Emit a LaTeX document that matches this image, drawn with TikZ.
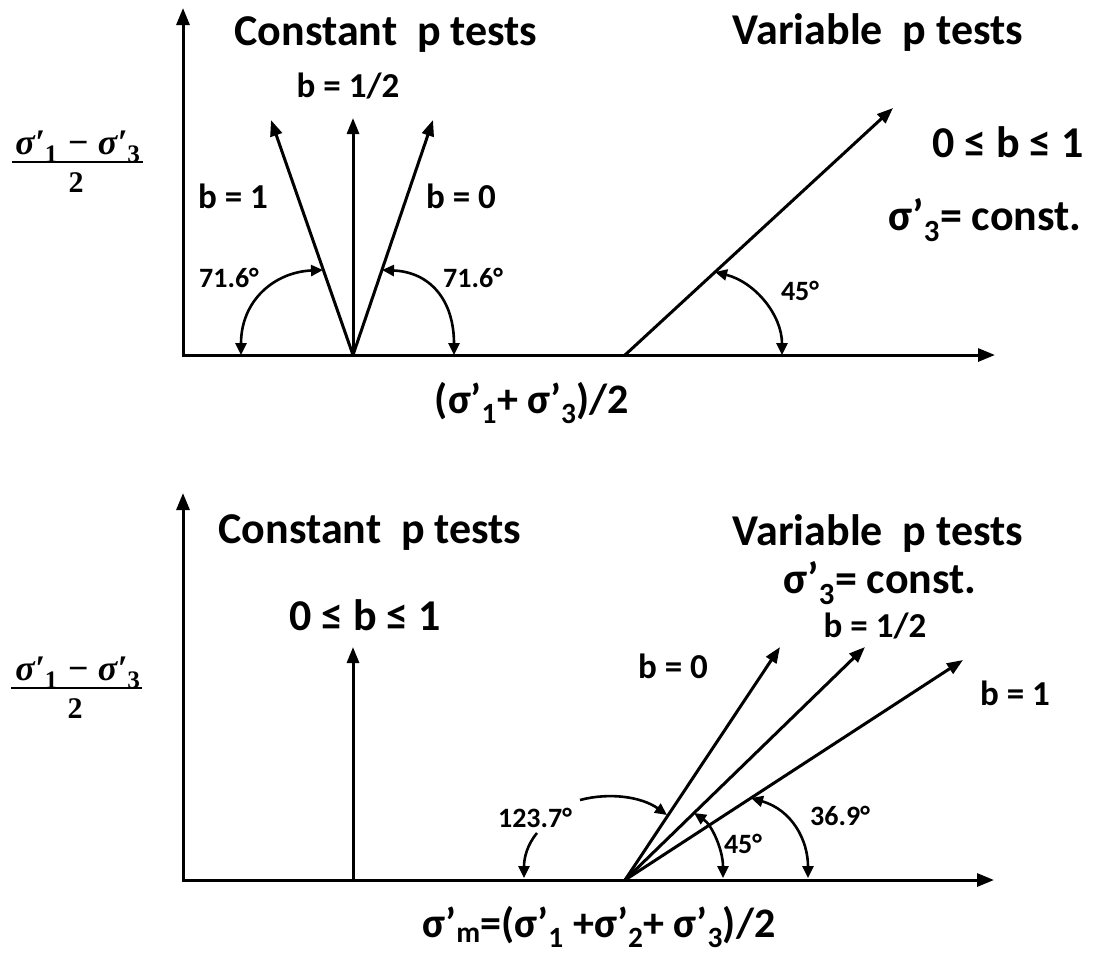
\documentclass[tikz,border=0pt]{standalone}
\usepackage{fontspec}
\setmainfont{Carlito}
\newfontfamily\fracfont{Liberation Serif}
\usetikzlibrary{arrows.meta}
\newcommand{\sg}{σ’}
\newcommand{\fsub}[1]{\textsubscript{\upshape #1}}
\begin{document}
\begin{tikzpicture}[x=1pt,y=-1pt,line width=3pt,
  axisarr/.style={{Triangle[length=17pt,width=13pt]}-{Triangle[length=17pt,width=13pt]},line join=miter},
  vec/.style={-{Triangle[length=16pt,width=12pt]}},
  arctwo/.style={{Triangle[length=12pt,width=11pt]}-{Triangle[length=12pt,width=11pt]},line width=2.6pt},
  arcone/.style={-{Triangle[length=12pt,width=11pt]},line width=2.6pt},
  txt/.style={inner sep=0pt,anchor=base},
  ttl/.style={txt,font=\fontsize{44}{50}\selectfont\bfseries},
  lab/.style={txt,font=\fontsize{35}{40}\selectfont\bfseries},
  ang/.style={txt,font=\fontsize{28}{32}\selectfont\bfseries},
  axl/.style={txt,font=\fontsize{42}{46}\selectfont\bfseries},
  fnum/.style={txt,font=\fontsize{36}{40}\selectfont\fracfont\bfseries\itshape},
  fden/.style={txt,font=\fontsize{30}{34}\selectfont\fracfont\bfseries},
  fbar/.style={line width=2pt}]
\useasboundingbox (0,0) rectangle (1097,954);
% ---------------- top diagram ----------------
\coordinate (Y1) at (183,8);
\coordinate (O1) at (183,355);
\coordinate (X1) at (995,355);
\coordinate (F1) at (353,355);
\coordinate (T1a) at (271,120);
\coordinate (T1b) at (353,118);
\coordinate (T1c) at (433,120);
\coordinate (V1) at (625,355);
\coordinate (T1d) at (893,108);
\draw[axisarr] (Y1) -- (O1) -- (X1);
\draw[vec] (F1) -- (T1a);
\draw[vec] (F1) -- (T1b);
\draw[vec] (F1) -- (T1c);
\draw[vec] (V1) -- (T1d);
\coordinate (A1s) at (241,355);
\coordinate (A1e) at (323,270);
\coordinate (A2s) at (382,270);
\coordinate (A2e) at (454,355);
\coordinate (A3s) at (715,272);
\coordinate (A3e) at (782,355);
\draw[arctwo] (A1s) .. controls (241,300) and (275,272) .. (A1e);
\draw[arctwo] (A2s) .. controls (430,272) and (454,300) .. (A2e);
\draw[arctwo] (A3s) .. controls (755,282) and (782,315) .. (A3e);
\node[ttl] (tc1) at (386,45) {Constant\ \ p tests};
\node[ttl] (tv1) at (878,44) {Variable\ \ p tests};
\node[lab] (bh1) at (348,97) {b = 1/2};
\node[lab] (bo1) at (233,208) {b = 1};
\node[lab] (bz1) at (461,208) {b = 0};
\node[ang] (a1) at (229,287) {71.6°};
\node[ang] (a2) at (473,287) {71.6°};
\node[ang] (a3) at (800,300) {45°};
\node[ttl] (rng1) at (1008,157) {0 ≤ b ≤ 1};
\node[ttl] (cst1) at (985,230) {\sg\textsubscript{3}= const.};
\node[axl] (xl1) at (532,413) {(\sg\textsubscript{1}+ \sg\textsubscript{3})/2};
\node[fnum] (yn1) at (78,154) {σ′\fsub{1} − σ′\fsub{3}};
\coordinate (yb1l) at (12,162);
\coordinate (yb1r) at (143,162);
\draw[fbar] (yb1l) -- (yb1r);
\node[fden] (yd1) at (76,192) {2};
% ---------------- bottom diagram ----------------
\coordinate (Y2) at (183,493);
\coordinate (O2) at (183,880);
\coordinate (X2) at (994,880);
\coordinate (F2) at (353,880);
\coordinate (T2) at (353,647);
\coordinate (V2) at (625,880);
\coordinate (B0) at (780,647);
\coordinate (Bh) at (865,647);
\coordinate (B1) at (963,660);
\draw[axisarr] (Y2) -- (O2) -- (X2);
\draw[vec] (F2) -- (T2);
\draw[vec] (V2) -- (B0);
\draw[vec] (V2) -- (Bh);
\draw[vec] (V2) -- (B1);
\coordinate (C1s) at (580,800);
\coordinate (C1e) at (667,815);
\coordinate (C2s) at (537,833);
\coordinate (C2e) at (524,878);
\coordinate (C3s) at (694,813);
\coordinate (C3e) at (723,878);
\coordinate (C4s) at (751,798);
\coordinate (C4e) at (808,878);
\draw[arcone] (C1s) .. controls (610,792) and (642,797) .. (C1e);
\draw[arcone] (C2s) .. controls (527,845) and (524,858) .. (C2e);
\draw[arctwo] (C3s) .. controls (712,825) and (723,850) .. (C3e);
\draw[arctwo] (C4s) .. controls (792,810) and (808,840) .. (C4e);
\node[ttl] (tc2) at (370,543) {Constant\ \ p tests};
\node[ttl] (rng2) at (365,630) {0 ≤ b ≤ 1};
\node[ttl] (tv2) at (878,545) {Variable\ \ p tests};
\node[ttl] (cst2) at (880,593) {\sg\textsubscript{3}= const.};
\node[lab] (bh2) at (875,637) {b = 1/2};
\node[lab] (bz2) at (673,678) {b = 0};
\node[lab] (bo2) at (1015,705) {b = 1};
\node[ang] (a4) at (535,827) {123.7°};
\node[ang] (a5) at (743,853) {45°};
\node[ang] (a6) at (840,825) {36.9°};
\node[axl] (xl2) at (599,937) {\sg\textsubscript{m}=(\sg\textsubscript{1} +\sg\textsubscript{2}+ \sg\textsubscript{3})/2};
\node[fnum] (yn2) at (78,680) {σ′\fsub{1} − σ′\fsub{3}};
\coordinate (yb2l) at (11,688);
\coordinate (yb2r) at (142,688);
\draw[fbar] (yb2l) -- (yb2r);
\node[fden] (yd2) at (75,718) {2};
\end{tikzpicture}
\end{document}
